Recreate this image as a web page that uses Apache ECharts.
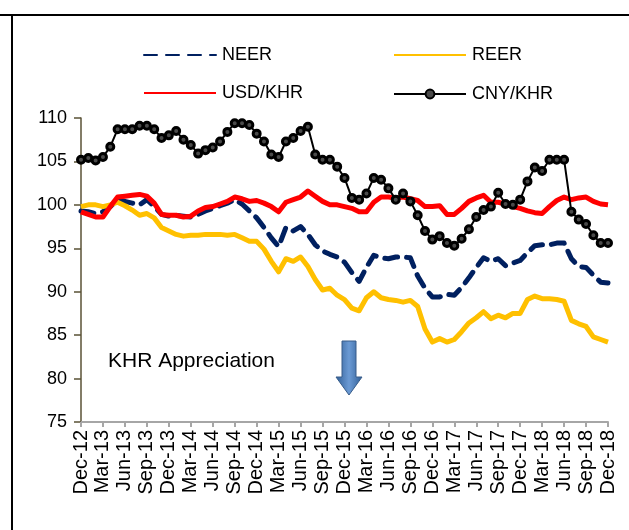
<!DOCTYPE html>
<html>
<head>
<meta charset="utf-8">
<script src="https://cdn.jsdelivr.net/npm/echarts@6/dist/echarts.min.js"></script>
<style>
html,body{margin:0;padding:0;background:#fff;}
#c{width:629px;height:530px;}
</style>
</head>
<body>
<div id="c"></div>
<script>
// Monthly categories Dec-12 .. Dec-18
const months = ['Dec-12','Jan-13','Feb-13','Mar-13','Apr-13','May-13','Jun-13','Jul-13','Aug-13','Sep-13','Oct-13','Nov-13',
'Dec-13','Jan-14','Feb-14','Mar-14','Apr-14','May-14','Jun-14','Jul-14','Aug-14','Sep-14','Oct-14','Nov-14',
'Dec-14','Jan-15','Feb-15','Mar-15','Apr-15','May-15','Jun-15','Jul-15','Aug-15','Sep-15','Oct-15','Nov-15',
'Dec-15','Jan-16','Feb-16','Mar-16','Apr-16','May-16','Jun-16','Jul-16','Aug-16','Sep-16','Oct-16','Nov-16',
'Dec-16','Jan-17','Feb-17','Mar-17','Apr-17','May-17','Jun-17','Jul-17','Aug-17','Sep-17','Oct-17','Nov-17',
'Dec-17','Jan-18','Feb-18','Mar-18','Apr-18','May-18','Jun-18','Jul-18','Aug-18','Sep-18','Oct-18','Nov-18','Dec-18'];

const neer = [99.3,99.2,99.0,99.2,99.8,100.6,100.4,100.2,100.0,100.6,99.8,98.9,
98.7,98.8,98.7,98.6,98.9,99.3,99.6,99.9,100.2,100.6,100.1,99.3,
98.5,97.4,96.2,95.2,97.4,97.0,97.5,96.6,95.4,94.7,94.3,94.0,
93.4,92.2,91.2,92.8,94.2,93.9,93.8,94.0,94.0,93.9,91.8,90.4,
89.4,89.4,89.7,89.6,90.5,91.6,92.8,93.9,93.5,93.8,93.0,93.3,
93.6,94.5,95.3,95.4,95.4,95.6,95.6,93.8,92.9,92.8,91.9,91.1,91.0];

const reer = [99.8,100.0,100.0,99.8,100.0,100.3,99.9,99.4,98.8,99.0,98.5,97.4,
97.0,96.6,96.4,96.5,96.5,96.6,96.6,96.6,96.5,96.6,96.2,95.8,
95.8,94.9,93.5,92.3,93.8,93.5,94.0,92.9,91.4,90.2,90.4,89.6,
89.1,88.1,87.8,89.3,90.0,89.3,89.1,89.0,88.8,89.0,88.3,85.7,
84.2,84.6,84.2,84.5,85.4,86.4,87.0,87.7,86.9,87.3,87.0,87.5,
87.5,89.1,89.5,89.2,89.2,89.1,88.9,86.7,86.3,86.0,84.8,84.5,84.2];

const usdKhr = [99.2,98.9,98.6,98.6,99.8,100.9,101.0,101.1,101.2,101.0,100.2,98.9,
98.8,98.8,98.6,98.7,99.3,99.7,99.8,100.1,100.4,100.9,100.7,100.4,
100.5,100.2,99.8,99.2,100.3,100.6,100.9,101.6,101.0,100.4,100.0,100.0,
99.8,99.6,99.2,99.2,100.3,100.9,100.9,100.8,100.9,100.7,100.5,99.8,
99.8,99.9,98.9,98.9,99.6,100.4,100.8,101.1,100.3,100.3,100.1,99.8,
99.6,99.3,99.1,99.0,99.8,100.5,100.9,100.6,100.8,100.9,100.4,100.1,100.0];

const cnyKhr = [105.2,105.4,105.1,105.5,106.7,108.7,108.7,108.7,109.1,109.1,108.7,107.7,
108.0,108.5,107.5,106.9,105.9,106.3,106.6,107.3,108.4,109.4,109.4,109.2,
108.2,107.3,105.8,105.5,107.3,107.7,108.5,109.0,105.8,105.2,105.2,104.4,
103.1,100.8,100.6,101.3,103.1,102.9,101.9,100.6,101.3,100.4,98.8,97.0,
96.0,96.4,95.6,95.3,96.1,97.2,98.6,99.4,99.8,101.4,100.1,100.0,
100.6,102.7,104.3,103.9,105.2,105.2,105.2,99.2,98.3,97.8,96.5,95.6,95.6];

const yTicks = {min: 75, max: 110, interval: 5};
const annotation = 'KHR Appreciation';

const FONT = '"Liberation Sans", Arial, sans-serif';
const chart = echarts.init(document.getElementById('c'), null, {renderer: 'canvas'});

function legendAt(name, left, top, hideSymbol, ih) {
  const l = {
    data: [name], left: left, top: top, orient: 'horizontal',
    itemWidth: 72, itemHeight: ih || 14,
    textStyle: {fontFamily: FONT, fontSize: 18, color: '#000', padding: [0,0,0,1]},
    selectedMode: false
  };
  if (hideSymbol) l.itemStyle = {opacity: 0};
  return l;
}

chart.setOption({
  animation: false,
  backgroundColor: '#fff',
  legend: [
    legendAt('NEER', 138, 41, true),
    legendAt('REER', 388, 41, true),
    legendAt('USD/KHR', 138, 79, true),
    legendAt('CNY/KHR', 388, 80, false, 11)
  ],
  grid: {left: 81, right: 21, top: 118, bottom: 108, containLabel: false},
  xAxis: {
    type: 'category', data: months, boundaryGap: false,
    axisLine: {lineStyle: {color: '#a6a6a6', width: 2}},
    axisTick: {show: true, interval: 2, length: 5, lineStyle: {color: '#a6a6a6', width: 2}},
    axisLabel: {interval: 2, rotate: 90, margin: 8, fontFamily: FONT, fontSize: 20, color: '#000'},
    splitLine: {show: false}
  },
  yAxis: {
    type: 'value', min: yTicks.min, max: yTicks.max, interval: yTicks.interval,
    axisLine: {show: true, lineStyle: {color: '#5a5236', width: 1.5}},
    axisTick: {show: true, length: 7, lineStyle: {color: '#5a5236', width: 1.5}},
    axisLabel: {margin: 14, fontFamily: FONT, fontSize: 18, color: '#000'},
    splitLine: {show: false}
  },
  series: [
    {name: 'NEER', type: 'line', data: neer, showSymbol: false, symbol: 'none',
     lineStyle: {color: '#002060', width: 5, type: [13, 9], cap: 'round', join: 'round'},
     itemStyle: {color: '#002060'}, z: 2},
    {name: 'REER', type: 'line', data: reer, showSymbol: false, symbol: 'none',
     lineStyle: {color: '#ffc000', width: 5, join: 'round'},
     itemStyle: {color: '#ffc000'}, z: 3},
    {name: 'USD/KHR', type: 'line', data: usdKhr, showSymbol: false, symbol: 'none',
     lineStyle: {color: '#ff0000', width: 5, join: 'round'},
     itemStyle: {color: '#ff0000'}, z: 4},
    {name: 'CNY/KHR', type: 'line', data: cnyKhr, symbol: 'circle', symbolSize: 7, showSymbol: true, showAllSymbol: true,
     lineStyle: {color: '#000', width: 2},
     itemStyle: {color: '#4a4a4a', borderColor: '#000', borderWidth: 3}, z: 5}
  ],
  graphic: [
    {type: 'line', shape: {x1: 0, y1: 15, x2: 629, y2: 15}, style: {stroke: '#000', lineWidth: 2}},
    {type: 'line', shape: {x1: 12, y1: 15, x2: 12, y2: 530}, style: {stroke: '#000', lineWidth: 2}},
    {type: 'text', left: 108, top: 351, style: {text: annotation, fontFamily: FONT, fontSize: 21, fill: '#000'}},
    {type: 'polygon', shape: {points: [[342,341],[356,341],[356,377],[362,377],[349,395],[336,377],[342,377]]},
     style: {fill: new echarts.graphic.LinearGradient(0,0,1,0,[{offset:0,color:'#2f5d95'},{offset:0.5,color:'#6b9ad4'},{offset:1,color:'#2f5d95'}]),
             stroke: '#385d8a', lineWidth: 1}}
  ]
});
</script>
</body>
</html>
